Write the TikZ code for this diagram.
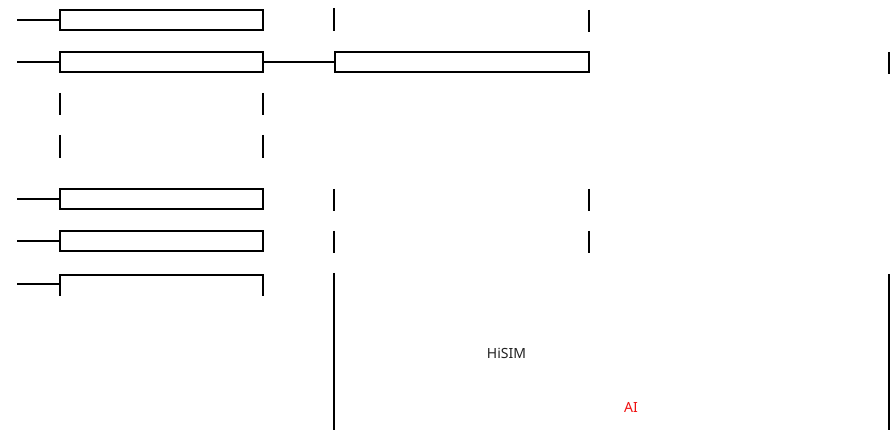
\documentclass[tikz,border=0pt]{standalone}
\usepackage{fontspec}
\setmainfont{Noto Sans}
\definecolor{txtgray}{HTML}{222222}
\definecolor{aired}{HTML}{F01010}
\begin{document}
\begin{tikzpicture}[x=1pt,y=-1pt,
  line width=2pt,
  bar/.style={draw=black, line width=2pt, minimum width=203pt, minimum height=20pt, inner sep=0pt, outer sep=0pt},
  wbar/.style={draw=black, line width=2pt, minimum width=254pt, minimum height=20pt, inner sep=0pt, outer sep=0pt},
  lbl/.style={font=\fontsize{14}{16}\selectfont, text=txtgray, inner sep=0pt}]
\useasboundingbox (0,0) rectangle (892,430);
% left column boxes
\node[bar] (b1) at (161.5,20) {};
\node[bar] (b2) at (161.5,62.5) {};
\node[bar] (b5) at (161.5,199.5) {};
\node[bar] (b6) at (161.5,241.5) {};
\node[wbar] (w2) at (462,62.5) {};
% input stubs
\coordinate (s1) at (17,20);
\coordinate (s2) at (17,62.5);
\coordinate (s5) at (17,199.5);
\coordinate (s6) at (17,241.5);
\coordinate (s7) at (17,284);
\draw (s1) -- (b1.west);
\draw (s2) -- (b2.west);
\draw (s5) -- (b5.west);
\draw (s6) -- (b6.west);
\draw (b2.east) -- (w2.west);
% open box row 7
\coordinate (o1) at (60,296);
\coordinate (o2) at (60,275);
\coordinate (o3) at (263,275);
\coordinate (o4) at (263,296);
\coordinate (o5) at (60,284);
\draw (s7) -- (o5);
\draw (o1) -- (o2) -- (o3) -- (o4);
% ticks
\foreach \x/\ya/\yb in {334/8/31, 589/10/32, 889/52/74,
  60/93/115, 263/93/115, 60/135/158, 263/135/158,
  334/189/211, 589/189/211, 334/231/253, 589/231/253}
  \draw (\x,\ya) -- (\x,\yb);
% big frame sides
\coordinate (f1) at (334,273);
\coordinate (f2) at (334,430);
\coordinate (f3) at (889,274);
\coordinate (f4) at (889,430);
\draw (f1) -- (f2);
\draw (f3) -- (f4);
% labels
\node[lbl] (hisim) at (506.5,353) {HiSIM};
\node[lbl, text=aired] (ai) at (631,407) {AI};
\end{tikzpicture}
\end{document}
